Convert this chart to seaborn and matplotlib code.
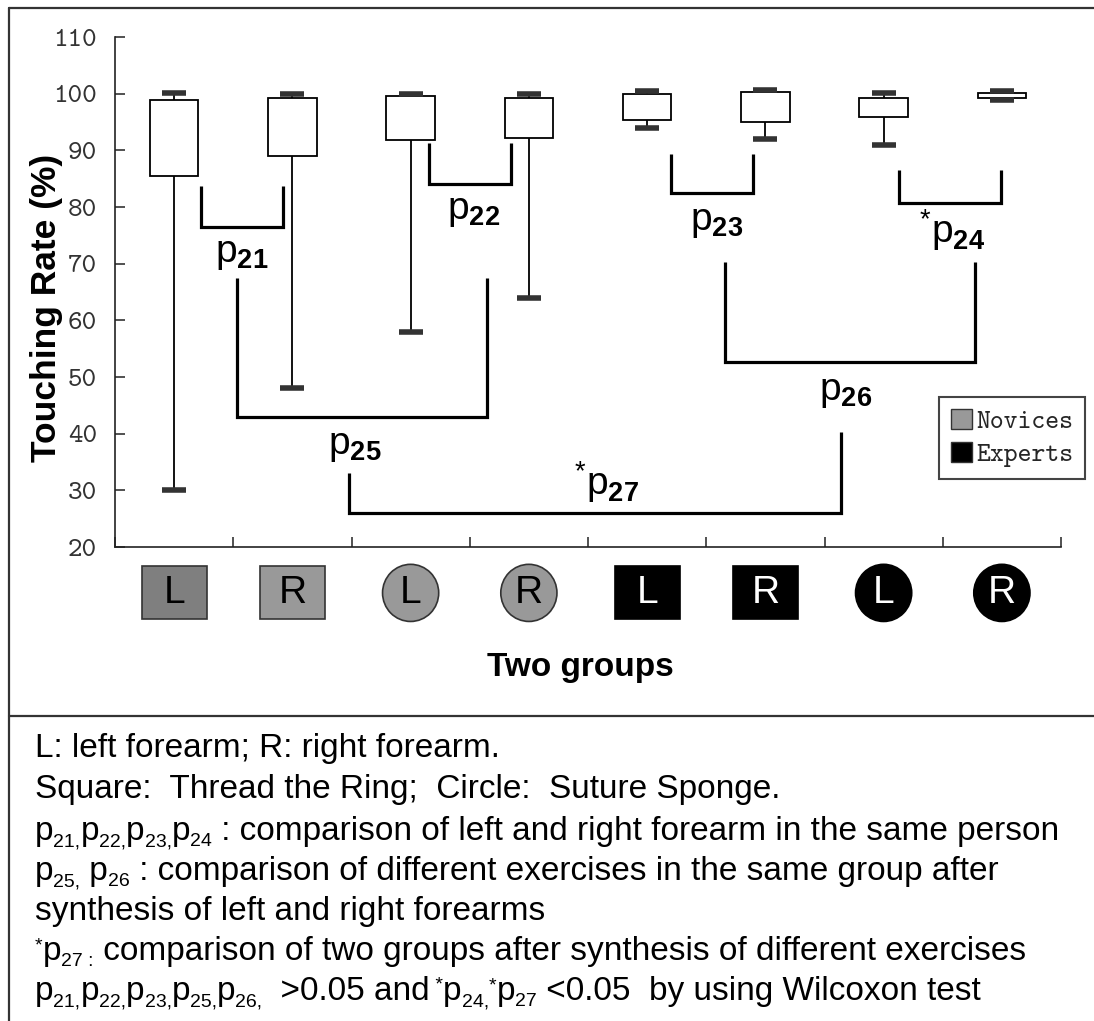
import numpy as np
import pandas as pd
import matplotlib
matplotlib.use("Agg")
import matplotlib.pyplot as plt
import seaborn as sns
from matplotlib.patches import Rectangle, Ellipse, Patch
from matplotlib.lines import Line2D
from matplotlib.transforms import blended_transform_factory

# ---------------- data ----------------
groups = ["Novices", "Novices", "Novices", "Novices", "Experts", "Experts", "Experts", "Experts"]
exercises = ["Ring", "Ring", "Sponge", "Sponge", "Ring", "Ring", "Sponge", "Sponge"]
sides = ["L", "R", "L", "R", "L", "R", "L", "R"]
whisker_low = [30.0, 48.0, 58.0, 64.0, 94.0, 92.0, 90.9, 98.8]
q1 = [85.5, 89.0, 91.8, 92.1, 95.3, 95.0, 95.9, 99.2]
medians = [98.9, 99.2, 99.5, 99.2, 99.9, 100.3, 99.2, 100.2]
q3 = [98.9, 99.2, 99.5, 99.2, 99.9, 100.3, 99.2, 100.2]
whisker_high = [100.1, 100.0, 100.0, 100.0, 100.4, 100.6, 100.2, 100.4]
marker_fill = ["#7f7f7f", "#999999", "#999999", "#999999", "#000000", "#000000", "#000000", "#000000"]

bracket_labels = ["p21", "p22", "p23", "*p24", "p25", "p26", "*p27"]
bracket_x1 = [0.229, 2.153, 4.203, 6.127, 0.534, 4.661, 1.483]
bracket_x2 = [0.924, 2.847, 4.898, 6.992, 2.644, 6.771, 5.636]
bracket_top1 = [83.7, 91.3, 89.3, 86.5, 67.5, 70.3, 33.1]
bracket_top2 = [83.7, 91.3, 89.3, 86.5, 67.5, 70.3, 40.3]
bracket_bottom = [76.5, 84.1, 82.5, 80.7, 42.9, 52.6, 26.0]
label_x = [0.576, 2.534, 4.585, 6.576, 1.525, 5.678, 3.653]
label_y = [71.7, 79.3, 77.4, 75.9, 37.8, 47.4, 31.5]

yticks = [20, 30, 40, 50, 60, 70, 80, 90, 100, 110]
legend_labels = ["Novices", "Experts"]
legend_colors = ["#999999", "#000000"]

# caption: (text, kind) pieces, kind n = normal, sub = subscript, sup = superscript
caption_lines = [
    [("L: left forearm; R: right forearm.", "n")],
    [("Square:  Thread the Ring;  Circle:  Suture Sponge.", "n")],
    [("p", "n"), ("21,", "sub"), ("p", "n"), ("22,", "sub"), ("p", "n"), ("23,", "sub"),
     ("p", "n"), ("24", "sub"), (" : comparison of left and right forearm in the same person", "n")],
    [("p", "n"), ("25,", "sub"), (" p", "n"), ("26", "sub"),
     (" : comparison of different exercises in the same group after", "n")],
    [("synthesis of left and right forearms", "n")],
    [("*", "sup"), ("p", "n"), ("27 :", "sub"),
     (" comparison of two groups after synthesis of different exercises", "n")],
    [("p", "n"), ("21,", "sub"), ("p", "n"), ("22,", "sub"), ("p", "n"), ("23,", "sub"),
     ("p", "n"), ("25,", "sub"), ("p", "n"), ("26,", "sub"), ("  >0.05 and", "n"),
     (" *", "sup"), ("p", "n"), ("24,", "sub"), ("*", "sup"), ("p", "n"), ("27", "sub"),
     (" <0.05  by using Wilcoxon test", "n")],
]

# ---------------- styling ----------------
sns.set_theme(style="ticks")
plt.rcParams["font.family"] = ["Liberation Sans", "DejaVu Sans"]
plt.rcParams["mathtext.fontset"] = "custom"
plt.rcParams["mathtext.rm"] = "Liberation Sans"
plt.rcParams["mathtext.bf"] = "Liberation Sans:bold"
plt.rcParams["mathtext.it"] = "Liberation Sans:italic"

W, H = 1094, 1021
fig = plt.figure(figsize=(W / 100, H / 100), dpi=100)
fig.patch.set_facecolor("white")
ax = fig.add_axes([115 / W, 1 - 547 / H, 946 / W, 510 / H])

# long-form table: each box given by its five summary values
cat_names = [f"{g}-{e}-{s}" for g, e, s in zip(groups, exercises, sides)]
rows = []
for name, a, b, c, d, e in zip(cat_names, whisker_low, q1, medians, q3, whisker_high):
    for v in (a, b, c, d, e):
        rows.append({"cat": name, "value": v})
df = pd.DataFrame(rows)

sns.boxplot(
    data=df, x="cat", y="value", order=cat_names, ax=ax,
    width=0.41, whis=(0, 100), color="white", linecolor="black",
    linewidth=1.3, saturation=1, showfliers=False,
    medianprops={"visible": False},
    capprops={"linewidth": 4.0, "color": "#333333", "solid_capstyle": "butt"},
    whiskerprops={"linewidth": 1.3},
)

ax.set_xlim(-0.5, len(cat_names) - 0.5)
ax.set_ylim(20, 110)
ax.set_yticks(yticks)
ax.set_xticks(np.arange(-0.5, len(cat_names), 1.0))
ax.set_xticklabels([])
ax.tick_params(axis="both", direction="in", length=7, width=1.1, color="#222222")
ax.tick_params(axis="y", pad=13, labelsize=20, labelcolor="#333333")
for lab in ax.get_yticklabels():
    lab.set_fontfamily("cmtt10")
for s in ("top", "right"):
    ax.spines[s].set_visible(False)
for s in ("left", "bottom"):
    ax.spines[s].set_linewidth(1.2)
    ax.spines[s].set_color("#222222")

ax.set_ylabel("Touching Rate (%)", fontsize=25.5, fontweight="bold", color="black")
ax.yaxis.set_label_coords(-0.055, 0.469)
ax.set_xlabel("Two groups", fontsize=24, fontweight="bold", color="black")
ax.xaxis.set_label_coords(0.4915, -0.206)

# category symbols under the axis
trans = blended_transform_factory(ax.transData, ax.transAxes)
for i, (ex, g, s, fc) in enumerate(zip(exercises, groups, sides, marker_fill)):
    ec = "#333333" if g == "Novices" else "black"
    tc = "black" if g == "Novices" else "white"
    if ex == "Ring":
        patch = Rectangle((i - 0.2755, -0.142), 0.551, 0.104, transform=trans,
                          facecolor=fc, edgecolor=ec, lw=1.2, clip_on=False)
    else:
        patch = Ellipse((i, -0.090), 0.475, 0.112, transform=trans,
                        facecolor=fc, edgecolor=ec, lw=1.2, clip_on=False)
    ax.add_patch(patch)
    ax.text(i, -0.090, s, transform=trans, ha="center", va="center",
            fontsize=28, color=tc, clip_on=False)

# comparison brackets
for lab, x1, x2, t1, t2, b, lx, ly in zip(bracket_labels, bracket_x1, bracket_x2,
                                          bracket_top1, bracket_top2, bracket_bottom,
                                          label_x, label_y):
    ax.plot([x1, x1, x2, x2], [t1, b, b, t2], color="black", lw=2.3,
            solid_joinstyle="miter", solid_capstyle="butt", clip_on=False, zorder=5)
    star = lab.startswith("*")
    num = lab.lstrip("*p")
    txt = (r"${}^{*}$" if star else "") + r"$\mathrm{p}_{\mathbf{" + num + r"}}$"
    ax.text(lx, ly, txt, ha="center", va="center", fontsize=28, color="black", zorder=6)

# legend
handles = [Patch(facecolor=c, edgecolor="#333333", label=l) for l, c in zip(legend_labels, legend_colors)]
leg = fig.legend(handles=handles, loc="upper left", bbox_to_anchor=(939 / W, 1 - 397 / H),
                 bbox_transform=fig.transFigure, prop={"family": "cmtt10", "size": 19},
                 frameon=True, fancybox=False, edgecolor="#444444", framealpha=1,
                 borderaxespad=0, handlelength=0.8, handleheight=0.8, handletextpad=0.15,
                 labelspacing=0.3, borderpad=0.45)
leg.get_frame().set_linewidth(1.5)

# outer frame lines
lc = "#333333"
fig.add_artist(Line2D([9 / W, 1], [1 - 8 / H, 1 - 8 / H], transform=fig.transFigure, color=lc, lw=1.6))
fig.add_artist(Line2D([9 / W, 9 / W], [0, 1 - 8 / H], transform=fig.transFigure, color=lc, lw=1.6))
fig.add_artist(Line2D([9 / W, 1], [1 - 716 / H, 1 - 716 / H], transform=fig.transFigure, color=lc, lw=1.6))

# caption (pieces laid out left to right)
renderer = fig.canvas.get_renderer()
sizes = {"n": 24, "sub": 14, "sup": 14}
shifts = {"n": 0, "sub": -6, "sup": 10}
baselines = [757, 798, 840, 880, 920, 960, 1000]
for pieces, yb in zip(caption_lines, baselines):
    x = 35.0
    for s, kind in pieces:
        t = fig.text(x / W, 1 - (yb - shifts[kind]) / H, s, ha="left", va="baseline",
                     fontsize=sizes[kind], color="black", family="Liberation Sans")
        x += t.get_window_extent(renderer).width

fig.savefig("out.png", dpi=100, facecolor="white")
